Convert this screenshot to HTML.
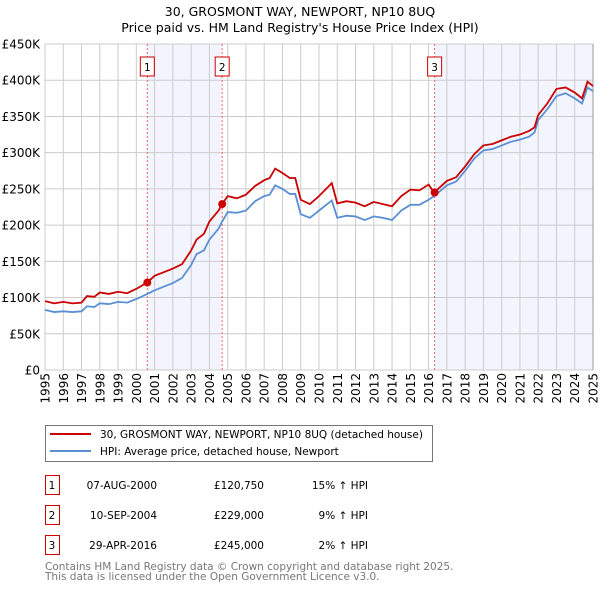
<!DOCTYPE html>
<html><head><meta charset="utf-8"><style>
body{margin:0;background:#fff;font-family:"DejaVu Sans","Liberation Sans",sans-serif;}
svg text{font-family:"DejaVu Sans","Liberation Sans",sans-serif;}
</style></head><body>
<svg id="c" width="600" height="590" xmlns="http://www.w3.org/2000/svg">
<text x="300" y="16" text-anchor="middle" font-size="12.5">30, GROSMONT WAY, NEWPORT, NP10 8UQ</text>
<text x="300" y="32" text-anchor="middle" font-size="12.5">Price paid vs. HM Land Registry's House Price Index (HPI)</text>
<g id="plot"></g>
<g>
<rect x="45.5" y="425.5" width="387" height="36" fill="#fff" stroke="#777"/>
<line x1="50" y1="434" x2="91" y2="434" stroke="#cc0000" stroke-width="2"/>
<text x="100" y="438" font-size="10.5">30, GROSMONT WAY, NEWPORT, NP10 8UQ (detached house)</text>
<line x1="50" y1="451" x2="91" y2="451" stroke="#5b8fd4" stroke-width="2"/>
<text x="100" y="455" font-size="10.5">HPI: Average price, detached house, Newport</text>
</g>
<g id="table" font-size="10.5"></g>
<text x="45" y="570" font-size="10.5" fill="#777">Contains HM Land Registry data © Crown copyright and database right 2025.</text>
<text x="45" y="580" font-size="10.5" fill="#777">This data is licensed under the Open Government Licence v3.0.</text>
</svg>
<script>
const years=[1995,1995.5,1996,1996.5,1997,1997.3,1997.7,1998,1998.5,1999,1999.5,2000,2000.6,2001,2001.5,2002,2002.5,2003,2003.3,2003.7,2004,2004.5,2004.7,2005,2005.5,2006,2006.5,2007,2007.3,2007.6,2008,2008.4,2008.7,2009,2009.5,2010,2010.7,2011,2011.5,2012,2012.5,2013,2013.5,2014,2014.5,2015,2015.5,2016,2016.3,2017,2017.5,2018,2018.5,2019,2019.5,2020,2020.5,2021,2021.5,2021.8,2022,2022.5,2023,2023.5,2024,2024.4,2024.7,2025];
const hpiValues=[83,80,81,80,81,88,87,92,91,94,93,98,105,110,115,120,127,145,160,165,180,195,205,218,217,220,233,240,242,255,250,243,243,215,210,220,234,210,213,212,207,212,210,207,220,228,228,235,240,255,260,275,292,303,305,310,315,318,322,328,345,360,378,382,375,368,390,385];
const propertyValues=[95,92,94,92,93,102,101,107,105,108,106,112,121,130,135,140,146,165,180,188,205,220,229,240,237,242,254,262,265,278,272,265,265,235,229,240,258,230,233,231,226,232,229,226,240,249,248,256,245,261,266,281,298,310,312,317,322,325,330,335,352,368,388,390,383,375,398,392];
const yTicks=[0,50,100,150,200,250,300,350,400,450];
const yTickLabels=["£0","£50K","£100K","£150K","£200K","£250K","£300K","£350K","£400K","£450K"];
const saleYears=[2000.6,2004.7,2016.33];
const salePrices=[120.75,229,245];
const saleLabels=["1","2","3"];
const saleDates=["07-AUG-2000","10-SEP-2004","29-APR-2016"];
const salePriceText=["£120,750","£229,000","£245,000"];
const saleHpiText=["15% ↑ HPI","9% ↑ HPI","2% ↑ HPI"];

const NS="http://www.w3.org/2000/svg";
const X0=45,X1=593,Y0=370,Y1=44;
const x=v=>X0+(v-1995)/30*(X1-X0);
const y=v=>Y0-v/450*(Y0-Y1);
function mk(t,a,p){const e=document.createElementNS(NS,t);for(const k in a)e.setAttribute(k,a[k]);p.appendChild(e);return e;}
const plot=document.getElementById('plot');
for(let i=0;i<saleYears.length;i+=2){
  const end=i+1<saleYears.length?saleYears[i+1]:2025;
  const r=mk('rect',{x:x(saleYears[i]),y:Y1,width:x(end)-x(saleYears[i]),height:Y0-Y1,fill:'#f2f5fd'},plot);
  
  
}
for(let yr=1995;yr<=2025;yr++){
  const l=mk('line',{x1:x(yr),x2:x(yr),y1:Y1,y2:Y0,stroke:'#cccccc'},plot);
  
  
  const t=mk('text',{x:0,y:0,'font-size':12,'text-anchor':'end',transform:`translate(${x(yr)+4.5},373) rotate(-90)`},plot);
  
  
  t.textContent=yr;
}
yTicks.forEach((v,i)=>{
  const l=mk('line',{x1:X0,x2:X1,y1:y(v),y2:y(v),stroke:'#cccccc'},plot);
  
  
  const t=mk('text',{x:40,y:y(v)+4.5,'font-size':12,'text-anchor':'end'},plot);
  
  
  t.textContent=yTickLabels[i];
});
const rb=mk('line',{x1:X1,x2:X1,y1:Y1,y2:Y0,stroke:'#999'},plot);


saleYears.forEach((s,i)=>{
  const l=mk('line',{x1:x(s),x2:x(s),y1:Y1,y2:Y0,stroke:'#ee6666','stroke-dasharray':'2,2'},plot);
  
  
  const b=mk('rect',{x:x(s)-7,y:57,width:14,height:19,fill:'#fff',stroke:'#cc0000'},plot);
  
  
  const t=mk('text',{x:x(s),y:71,'font-size':10.5,'text-anchor':'middle'},plot);
  
  
  t.textContent=saleLabels[i];
});
function line(vals,color,name){
  const p=mk('polyline',{points:years.map((yr,i)=>x(yr)+','+y(vals[i])).join(' '),fill:'none',stroke:color,'stroke-width':1.8},plot);
  
  
}
line(hpiValues,'#5b8fd4','hpi-line');
line(propertyValues,'#cc0000','property-price-line');
saleYears.forEach((s,i)=>{
  const c=mk('circle',{cx:x(s),cy:y(salePrices[i]),r:4,fill:'#cc0000'},plot);
  
  
});
const tb=document.getElementById('table');
saleLabels.forEach((lab,i)=>{
  const yy=475+i*30;
  const b=mk('rect',{x:45.5,y:yy+0.5,width:14,height:19,fill:'#fff',stroke:'#cc0000'},tb);
  
  
  const cells=[[lab,52,'middle'],[saleDates[i],157,'end'],[salePriceText[i],264,'end'],[saleHpiText[i],368,'end']];
  const names=['sale-row-number','sale-row-date','sale-row-price','sale-row-hpi-change'];
  cells.forEach((c,j)=>{
    const t=mk('text',{x:c[1],y:yy+14,'text-anchor':c[2]},tb);
    
    
    t.textContent=c[0];
  });
});
</script>
</body></html>
